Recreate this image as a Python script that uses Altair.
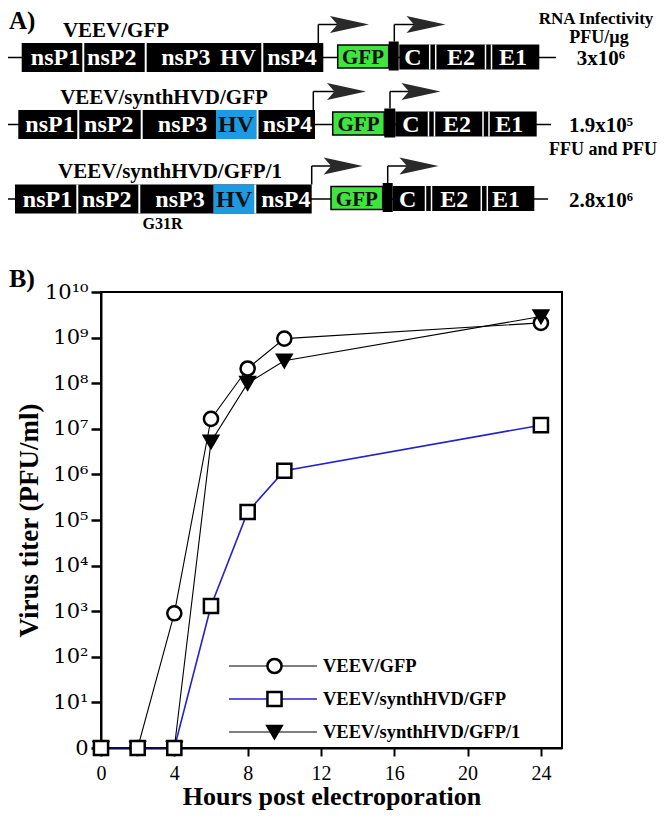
import json
import altair as alt
import pandas as pd

# ---------------- Panel B: growth curves ----------------
hours = [0, 2, 4, 6, 8, 10, 24]
series_names = ["VEEV/GFP", "VEEV/synthHVD/GFP", "VEEV/synthHVD/GFP/1"]
titer_veev_gfp = [0, 0, 9.0e2, 1.65e7, 2.1e8, 9.5e8, 2.1e9]
titer_synth_gfp = [0, 0, 0, 1.3e3, 1.5e5, 1.2e6, 1.2e7]
titer_synth_gfp_1 = [0, 0, 0, 5.2e6, 1.0e8, 3.1e8, 2.9e9]
x_tick_values = [0, 4, 8, 12, 16, 20, 24]
y_tick_values = list(range(0, 11))
y_tick_labels = ["0\u2002", "10¹", "10²", "10³", "10⁴", "10⁵", "10⁶", "10⁷", "10⁸", "10⁹", "10¹⁰"]
x_title = "Hours post electroporation"
y_title = "Virus titer (PFU/ml)"
panel_labels = ["A)", "B)"]

# ---------------- Panel A: genome maps (diagram units) ----------------
constructs = series_names
infectivity = ["3x10⁶", "1.9x10⁵", "2.8x10⁶"]
infectivity_header = ["RNA Infectivity", "PFU/µg"]
infectivity_note = "FFU and PFU"
mutation_label = "G31R"
genes = ["nsP1", "nsP2", "nsP3", "HV", "nsP4", "GFP", "C", "E2", "E1"]
gene_centers = [
    [55.5, 111.7, 185.8, 238.0, 292.0, 363.0, 413.0, 461.0, 513.0],
    [50.0, 108.7, 182.5, 236.0, 287.5, 358.5, 411.0, 457.0, 509.3],
    [47.5, 106.7, 180.0, 234.0, 285.8, 356.8, 407.7, 454.3, 506.0],
]
construct_name_x = [116.0, 164.0, 170.0]
backbone = [(5.0, 556.0), (5.0, 551.0), (0.0, 548.0)]
ns_box = [(21.7, 323.3), (18.3, 315.0), (15.0, 311.7)]
ns_dividers = [[83.3, 145.7, 262.3], [78.3, 141.7, 257.5], [77.3, 139.3, 255.3]]
hv_domain = [None, (216.0, 256.7), (213.3, 255.0)]
gfp_box = [(337.7, 388.7), (332.7, 384.3), (331.0, 382.7)]
sg_promoter = [(388.7, 398.7), (384.3, 395.3), (382.7, 392.7)]
structural_box = [(399.3, 539.3), (395.3, 536.7), (392.7, 534.3)]
structural_dividers = [[432.7, 488.5], [431.5, 486.0], [428.5, 484.3]]
promoter_arrow_x = [(318.3, 394.3), (313.3, 390.0), (311.7, 387.7)]
arrowhead_x = [(349.5, 426.0), (346.5, 421.0), (343.2, 419.0)]
row_center_y = [57.5, 124.5, 199.0]

# ---------------- styles ----------------
FONT = "Liberation Serif"
line_colors = ["#000000", "#2222cc", "#000000"]
marker_shapes = ["circle", "square", "triangle-down"]
marker_fills = ["white", "white", "black"]
GREEN = "#3fe43f"
BLUE = "#1c9ae2"

# canvas scales for the diagram / annotation layers
CANVAS_X = alt.Scale(domain=[101, 562], nice=False, zero=False)
CANVAS_Y = alt.Scale(domain=[292, 748], nice=False, zero=False, reverse=True)


def cx(f):
    return alt.X(f"{f}:Q", scale=CANVAS_X, axis=None)


def cy(f):
    return alt.Y(f"{f}:Q", scale=CANVAS_Y, axis=None)


# ---------------- build panel A tables ----------------
bb, blk, blu, grn, divs, arrs, heads, ctext = [], [], [], [], [], [], [], []
for r in range(3):
    c = row_center_y[r]
    bb.append(dict(x=backbone[r][0], x2=backbone[r][1], y=c))
    blk.append(dict(x=ns_box[r][0], x2=ns_box[r][1], y=c - 14.5, y2=c + 14.5))
    blk.append(dict(x=structural_box[r][0], x2=structural_box[r][1], y=c - 13, y2=c + 12))
    blk.append(dict(x=sg_promoter[r][0], x2=sg_promoter[r][1], y=c - 16, y2=c + 13))
    if hv_domain[r] is not None:
        blu.append(dict(x=hv_domain[r][0], x2=hv_domain[r][1], y=c - 14.5, y2=c + 14.5))
    grn.append(dict(x=gfp_box[r][0], x2=gfp_box[r][1], y=c - 12.5, y2=c + 10.5))
    for d in ns_dividers[r]:
        divs.append(dict(x=d, y=c - 14.5, y2=c + 14.5, w=2.0))
    for d in structural_dividers[r]:
        for off in (-3.0, 3.0):
            divs.append(dict(x=d + off, y=c - 13, y2=c + 12, w=1.5))
    ay_ = c - 33.0
    a1, a2 = promoter_arrow_x[r]
    h1, h2 = arrowhead_x[r]
    arrs += [
        dict(x=a1, x2=a1, y=c - 14.5, y2=ay_),
        dict(x=a1, x2=h1 - 12, y=ay_, y2=ay_),
        dict(x=a2, x2=a2, y=c - 16, y2=ay_),
        dict(x=a2, x2=h2 - 12, y=ay_, y2=ay_),
    ]
    heads += [dict(x=h1, y=ay_), dict(x=h2, y=ay_)]
    ctext.append(dict(x=construct_name_x[r], y=c - 27, t=constructs[r], col="black", fs=21))
    for g, gx in zip(genes, gene_centers[r]):
        dark = g == "GFP" or (g == "HV" and r > 0)
        ctext.append(dict(x=gx, y=c + 0.5, t=g, col="#111111" if dark else "white",
                          fs=21 if g == "GFP" else 24))
    ctext.append(dict(x=601, y=c + 1.5, t=infectivity[r], col="black", fs=21))

ctext.append(dict(x=596, y=19, t=infectivity_header[0], col="black", fs=17))
ctext.append(dict(x=599, y=38, t=infectivity_header[1], col="black", fs=18))
ctext.append(dict(x=603, y=150, t=infectivity_note, col="black", fs=18))
ctext.append(dict(x=162.5, y=224, t=mutation_label, col="black", fs=16))

ltext = [
    dict(x=9, y=21, t=panel_labels[0], fs=25),
    dict(x=9, y=279, t=panel_labels[1], fs=26),
]
legend_rows = []
for i, s in enumerate(series_names):
    yy = 666 + 33 * i
    legend_rows.append(dict(series=s, y=yy, x=229, x2=317, xs=274.5, z=i))
    ltext.append(dict(x=323, y=yy, t=s, fs=18.5))

df_bb = pd.DataFrame(bb)
df_blk = pd.DataFrame(blk)
df_blu = pd.DataFrame(blu)
df_grn = pd.DataFrame(grn)
df_div = pd.DataFrame(divs)
df_arr = pd.DataFrame(arrs)
df_head = pd.DataFrame(heads)
df_ct = pd.DataFrame(ctext)
df_lt = pd.DataFrame(ltext)
df_leg = pd.DataFrame(legend_rows)

l_bb = alt.Chart(df_bb).mark_rule(color="black", strokeWidth=1.5).encode(
    x=cx("x"), x2=alt.X2("x2"), y=cy("y"))
l_grn = alt.Chart(df_grn).mark_rect(fill=GREEN, stroke="black", strokeWidth=1.5).encode(
    x=cx("x"), x2=alt.X2("x2"), y=cy("y"), y2=alt.Y2("y2"))
l_blk = alt.Chart(df_blk).mark_rect(fill="black").encode(
    x=cx("x"), x2=alt.X2("x2"), y=cy("y"), y2=alt.Y2("y2"))
l_blu = alt.Chart(df_blu).mark_rect(fill=BLUE).encode(
    x=cx("x"), x2=alt.X2("x2"), y=cy("y"), y2=alt.Y2("y2"))
l_div = alt.Chart(df_div).mark_rule(color="white").encode(
    x=cx("x"), y=cy("y"), y2=alt.Y2("y2"), strokeWidth=alt.StrokeWidth("w:Q", scale=None))
l_arr = alt.Chart(df_arr).mark_rule(color="black", strokeWidth=1.5).encode(
    x=cx("x"), x2=alt.X2("x2"), y=cy("y"), y2=alt.Y2("y2"))
l_head = alt.Chart(df_head).mark_point(
    shape="M-1,-0.43L1,0L-1,0.43L-0.62,0Z", filled=True, color="#2a2a2a",
    size=1521, opacity=1, strokeWidth=0).encode(x=cx("x"), y=cy("y"))
l_ct = alt.Chart(df_ct).mark_text(font=FONT, fontWeight="bold", baseline="middle", align="center").encode(
    x=cx("x"), y=cy("y"), text="t:N",
    color=alt.Color("col:N", scale=None), size=alt.Size("fs:Q", scale=None))
l_lt = alt.Chart(df_lt).mark_text(font=FONT, fontWeight="bold", baseline="middle", align="left",
                                  color="black").encode(
    x=cx("x"), y=cy("y"), text="t:N", size=alt.Size("fs:Q", scale=None))

# ---------------- panel B ----------------
rows = []
for s, vals, z in zip(series_names, [titer_veev_gfp, titer_synth_gfp, titer_synth_gfp_1], [0, 2, 1]):
    for h, v in zip(hours, vals):
        rows.append(dict(series=s, hours=h, titer=v, z=z))
df_b = pd.DataFrame(rows)

XB = alt.Scale(domain=[0, 25.15], nice=False, zero=False)
YB = alt.Scale(domain=[0, 10], nice=False, zero=False)
stroke_scale = alt.Scale(domain=series_names, range=line_colors)
shape_scale = alt.Scale(domain=series_names, range=marker_shapes)
fill_scale = alt.Scale(domain=series_names, range=marker_fills)
LW = 'datum.series == "VEEV/synthHVD/GFP" ? 1.6 : 1.1'

x_axis = alt.Axis(
    values=x_tick_values, title=x_title, grid=False,
    labelFont=FONT, labelFontSize=20, labelColor="black", labelPadding=7,
    tickSize=8, tickWidth=2, tickColor="black",
    domainColor="black", domainWidth=2, labelFlush=False,
    titleFont=FONT, titleFontSize=26, titleFontWeight="bold", titleColor="black",
    titleBaseline="alphabetic", titleY=56,
)
y_axis = alt.Axis(
    values=y_tick_values, title=y_title, grid=False,
    labelExpr=json.dumps(y_tick_labels, ensure_ascii=False) + "[datum.value]",
    labelFont="DejaVu Serif", labelFontSize=21, labelColor="black", labelPadding=3,
    tickSize=10, tickWidth=2.5, tickColor="black",
    domainColor="black", domainWidth=2, labelFlush=False,
    titleFont=FONT, titleFontSize=27, titleFontWeight="bold", titleColor="black",
    titleBaseline="alphabetic", titleX=-64, titleY=228, titleAngle=270,
)

base_b = alt.Chart(df_b).transform_calculate(
    expo="datum.titer > 0 ? log(datum.titer) / LN10 : 0", lw=LW)
l_lines = base_b.mark_line().encode(
    x=alt.X("hours:Q", scale=XB, axis=x_axis),
    y=alt.Y("expo:Q", scale=YB, axis=y_axis),
    stroke=alt.Stroke("series:N", scale=stroke_scale, legend=None),
    strokeWidth=alt.StrokeWidth("lw:Q", scale=None),
    order=alt.Order("hours:Q"),
)
l_points = base_b.mark_point(size=200, strokeWidth=2.5, opacity=1).encode(
    x=alt.X("hours:Q", scale=XB, axis=None),
    y=alt.Y("expo:Q", scale=YB, axis=None),
    shape=alt.Shape("series:N", scale=shape_scale, legend=None),
    fill=alt.Fill("series:N", scale=fill_scale, legend=None),
    stroke=alt.value("black"),
    order=alt.Order("z:Q"),
)

# legend drawn inside the plot
leg_base = alt.Chart(df_leg).transform_calculate(lw=LW)
l_leg_line = leg_base.mark_rule().encode(
    x=cx("x"), x2=alt.X2("x2"), y=cy("y"),
    stroke=alt.Stroke("series:N", scale=stroke_scale, legend=None),
    strokeWidth=alt.StrokeWidth("lw:Q", scale=None))
l_leg_pt = leg_base.mark_point(size=200, strokeWidth=2.5, opacity=1).encode(
    x=cx("xs"), y=cy("y"),
    shape=alt.Shape("series:N", scale=shape_scale, legend=None),
    fill=alt.Fill("series:N", scale=fill_scale, legend=None),
    stroke=alt.value("black"))

chart = alt.layer(
    l_lines, l_points,
    l_bb, l_grn, l_blk, l_blu, l_div, l_arr, l_head, l_ct,
    l_leg_line, l_leg_pt, l_lt,
).resolve_scale(
    x="independent", y="independent"
).properties(
    width=461, height=456,
    autosize=alt.AutoSizeParams(type="none"),
    padding={"left": 93, "top": 284, "right": 96, "bottom": 63},
    background="white",
).configure_view(stroke="black", strokeWidth=2)

chart.save("out.html", embed_options={"renderer": "svg", "actions": False})
